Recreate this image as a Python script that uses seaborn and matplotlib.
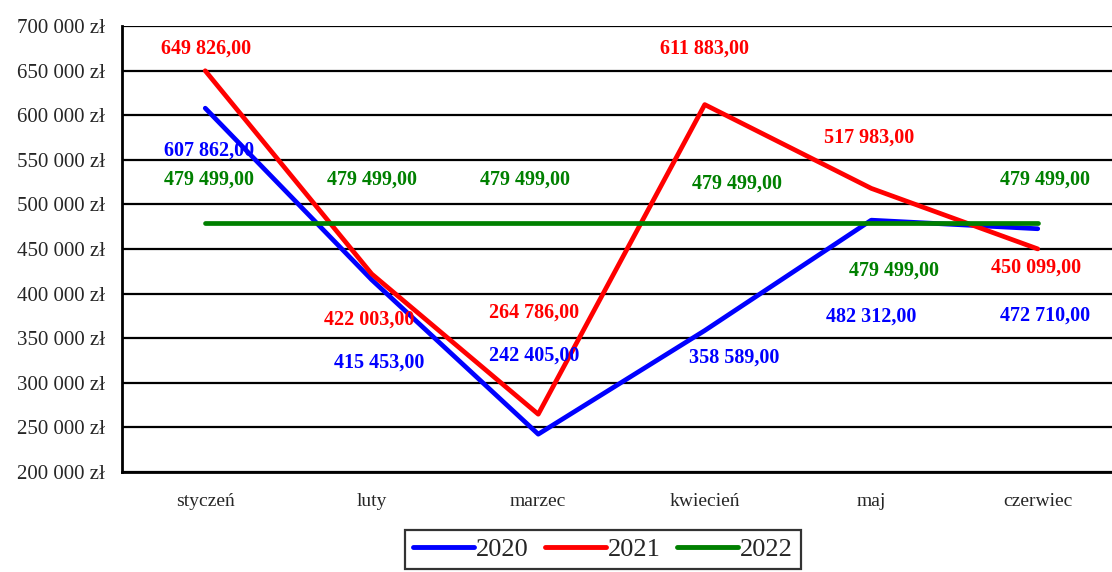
import numpy as np
import matplotlib
matplotlib.use('Agg')
import matplotlib.pyplot as plt
from matplotlib.ticker import FuncFormatter, MultipleLocator, FixedLocator
import pandas as pd
import seaborn as sns

months = ['styczeń', 'luty', 'marzec', 'kwiecień', 'maj', 'czerwiec']
years = ['2020', '2021', '2022']
values_2020 = [607862, 415453, 242405, 358589, 482312, 472710]
values_2021 = [649826, 422003, 264786, 611883, 517983, 450099]
values_2022 = [479499, 479499, 479499, 479499, 479499, 479499]

colors = {'2020': '#0000ff', '2021': '#ff0000', '2022': '#008000'}

# label offsets in pixels relative to each point (dx, dy), dy positive = up
label_offsets = {
    '2020': [(4, -42), (7, -83), (-4, 79), (29, -27), (0, -96), (7, -87)],
    '2021': [(1, 22), (-3, -46), (-4, 102), (0, 56), (-2, 51), (-2, -19)],
    '2022': [(4, 43), (0, 43), (-13, 43), (32, 39), (23, -48), (7, 43)],
}


def money(v, pos=None):
    return '{:,.0f} zł'.format(v).replace(',', ' ')


def label_text(v):
    return '{:,.2f}'.format(v).replace(',', ' ').replace('.', ',')


df = pd.DataFrame({
    'pos': list(range(len(months))) * 3,
    'value': values_2020 + values_2021 + values_2022,
    'year': ['2020'] * 6 + ['2021'] * 6 + ['2022'] * 6,
})

sns.set_style('white')
plt.rcParams['font.family'] = ['Liberation Serif', 'DejaVu Serif']

fig = plt.figure(figsize=(11.12, 5.72), dpi=100)
ax = fig.add_axes([122 / 1112, 1 - 472 / 572, 999 / 1112, 446 / 572])

sns.lineplot(data=df, x='pos', y='value', hue='year', palette=colors,
             linewidth=3.4, ax=ax, legend=False, sort=False)
for line in ax.lines:
    line.set_solid_capstyle('round')

for year in years:
    sub = df[df['year'] == year]
    for (x, v), (dx, dy) in zip(zip(sub['pos'], sub['value']), label_offsets[year]):
        ax.annotate(label_text(v), xy=(x, v), xytext=(dx, dy), textcoords='offset pixels',
                    ha='center', va='center', fontsize=14.5, fontweight='bold',
                    color=colors[year])

ax.set_xlim(-0.5, 5.5)
ax.set_ylim(200000, 700000)
ax.yaxis.set_major_locator(MultipleLocator(50000))
ax.yaxis.set_major_formatter(FuncFormatter(money))
ax.grid(axis='y', color='black', linewidth=1.6)
ax.set_axisbelow(True)

ax.set_xticks(range(len(months)))
ax.set_xticklabels(months, fontsize=14)
ax.xaxis.set_minor_locator(FixedLocator(np.arange(-0.5, 6, 1)))
ax.tick_params(axis='x', which='major', length=0, pad=15)
ax.tick_params(axis='x', which='minor', length=6, width=1.6, color='black', direction='out')
ax.tick_params(axis='y', length=6, width=1.6, color='black', direction='out', labelsize=15, pad=6)
ax.set_xlabel('')
ax.set_ylabel('')

for side in ['top', 'right']:
    ax.spines[side].set_visible(False)
for side in ['left', 'bottom']:
    ax.spines[side].set_color('black')
    ax.spines[side].set_linewidth(2)

handles = [plt.Line2D([], [], color=colors[y], linewidth=3.5, solid_capstyle='round') for y in years]
leg = fig.legend(handles, years, loc='upper center', bbox_to_anchor=(603 / 1112, 1 - 530 / 572),
                 ncol=3, fontsize=19, frameon=True, fancybox=False, handlelength=2.3,
                 handletextpad=0.1, columnspacing=0.6, borderpad=0.3, borderaxespad=0)
leg.get_frame().set_edgecolor('black')
leg.get_frame().set_linewidth(1.6)

fig.savefig('out.png', dpi=100)
